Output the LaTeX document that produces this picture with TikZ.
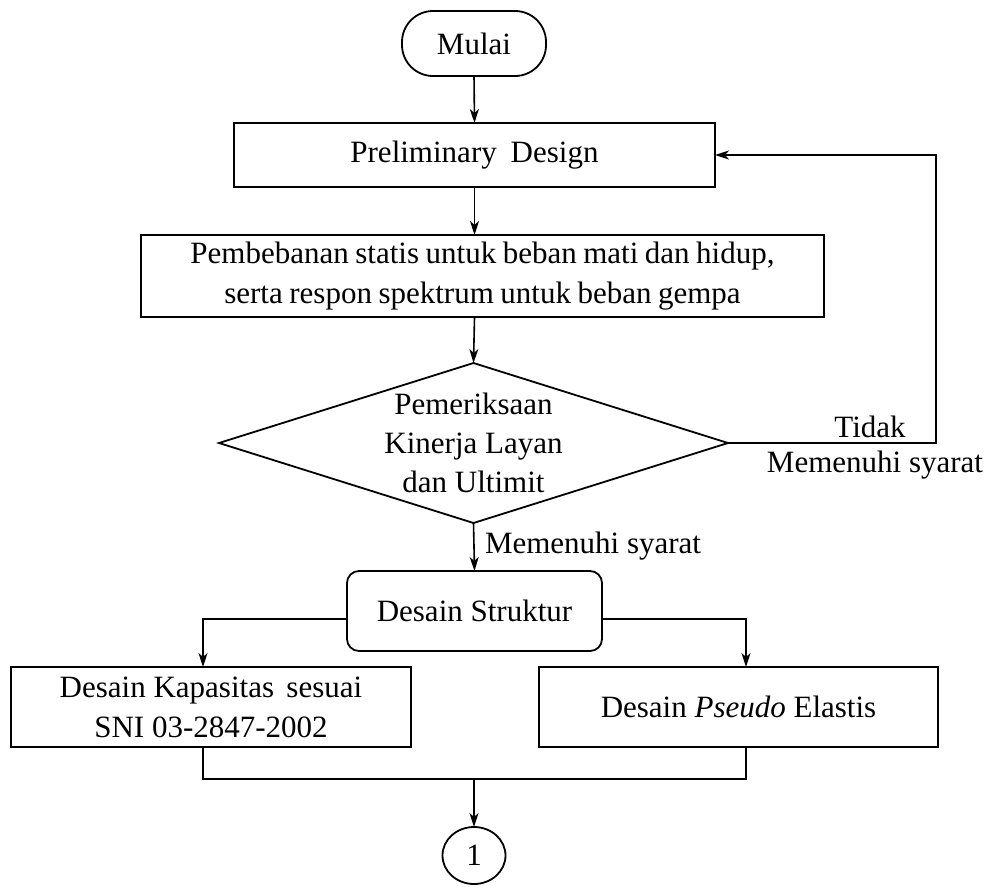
\documentclass[tikz,border=0pt]{standalone}
\usepackage{fontspec}
\setmainfont{Liberation Serif}
\usetikzlibrary{shapes.geometric,arrows.meta}
\begin{document}
\begin{tikzpicture}[x=1pt,y=-1pt,
  every node/.style={font=\fontsize{31}{40}\selectfont, inner sep=0pt, outer sep=0pt},
  boxed/.style={draw, line width=1.8pt, align=center},
  arr/.style={line width=1.6pt, -{Stealth[length=14pt,width=9pt,inset=4pt]}},
  ln/.style={line width=1.6pt}]
\useasboundingbox (0,0) rectangle (992,886);
\node[boxed, rounded corners=31pt, minimum width=144pt, minimum height=65pt] (mulai) at (474,43.5) {Mulai};
\node[boxed, minimum width=481pt, minimum height=64pt] (prelim) at (474.5,155) {Preliminary\hspace{0.2em} Design};
\node[boxed, minimum width=683pt, minimum height=82pt] (pemb) at (482.5,276) {\spaceskip=0.21em Pembebanan statis untuk beban mati dan hidup,\\\spaceskip=0.21em serta respon spektrum untuk beban gempa};
\node[boxed, shape=diamond, aspect=3.18, minimum width=509pt, minimum height=160pt,
      font=\fontsize{31}{39}\selectfont] (cek) at (473.5,443) {Pemeriksaan\\Kinerja Layan\\dan Ultimit};
\node[boxed, rounded corners=12pt, minimum width=255pt, minimum height=80pt] (struk) at (474.5,611) {Desain Struktur};
\node[boxed, minimum width=400pt, minimum height=80pt] (kap) at (211,707) {Desain Kapasitas\hspace{0.15em} sesuai\\SNI 03-2847-2002};
\node[boxed, minimum width=399pt, minimum height=80pt] (pseudo) at (738.5,707) {Desain \textit{Pseudo} Elastis};
\node[draw, line width=1.8pt, shape=ellipse, minimum width=63pt, minimum height=57pt] (one) at (474,855.5) {1};

\node[anchor=base] (tidak) at (870,437) {Tidak};
\node[anchor=base] (ms1) at (875,472) {Memenuhi syarat};
\node[anchor=base west] (ms2) at (485,553) {Memenuhi syarat};

\coordinate (tk) at (936,443);
\coordinate (jl) at (203,779);
\coordinate (jr) at (746,779);
\coordinate (jc) at (474,779);

\draw[arr] (mulai.south) -- (prelim.north);
\draw[arr] (prelim.south) -- (prelim.south |- pemb.north);
\draw[arr] (prelim.south |- pemb.south) -- (cek.north);
\draw[arr] (cek.east) -- (tk) |- (prelim.east);
\draw[arr] (cek.south) -- (struk.north);
\draw[arr] ([yshift=-8pt]struk.west) -| ([xshift=-8pt]kap.north);
\draw[arr] ([yshift=-8pt]struk.east) -| ([xshift=7.5pt]pseudo.north);
\draw[ln] ([xshift=-8pt]kap.south) -- (jl) -- (jr) -- ([xshift=7.5pt]pseudo.south);
\draw[arr] (jc) -- (one.north);
\end{tikzpicture}
\end{document}
